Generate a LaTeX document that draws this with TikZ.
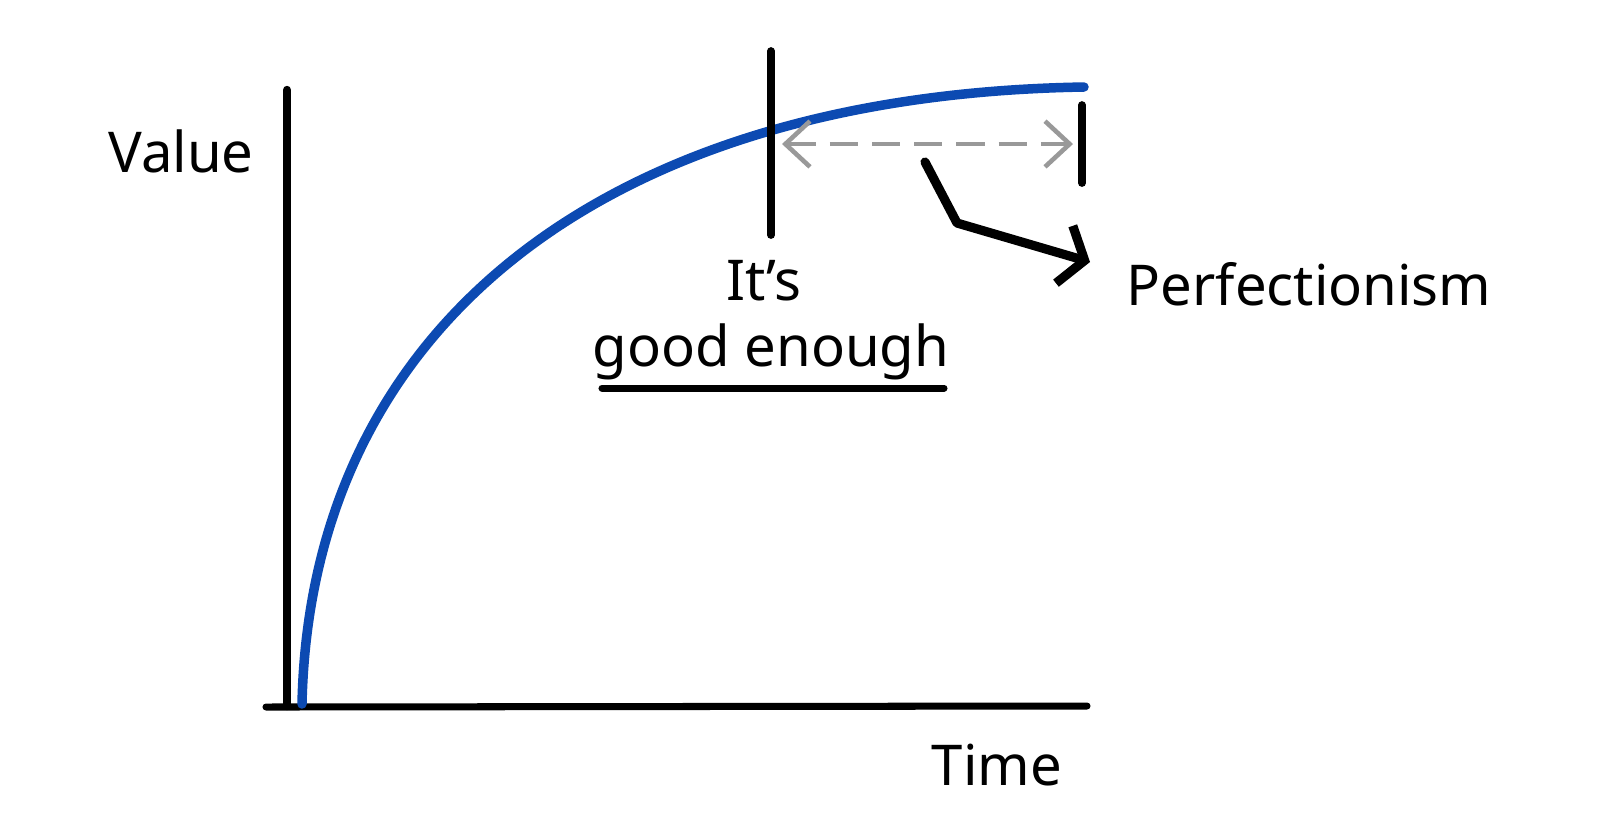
\documentclass[tikz,border=0pt]{standalone}
\usepackage{fontspec}
\setmainfont{Noto Sans}
\usepackage{tikz}
\usetikzlibrary{arrows.meta}
\usetikzlibrary{positioning}
\definecolor{curveblue}{RGB}{12,74,178}
\tikzset{axis/.style={line width=2pt, line cap=round}}
\tikzset{label/.style={font=\fontsize{16}{19}\selectfont, inner sep=0pt}}

\begin{document}
\begin{tikzpicture}[x=0.01cm, y=-0.01cm]
\tikzset{marker/.style={line width=2.2pt, line cap=round}}
\useasboundingbox (0,0) rectangle (1600,835);

% axes
\coordinate (O) at (287,706);
\coordinate (ytop) at (287,90);
\coordinate (xleft) at (266,707);
\coordinate (xend) at (1087,706);
\draw[axis, line width=2.4pt] (O) -- (ytop);
\draw[axis] (xleft) -- (xend);

\node[label] (value) at (181,151) {Value};
\node[label] (time) at (997,765) {Time};

% value over time
\coordinate (c0) at (302,704);
\coordinate (c1) at (1084,87);
\draw[line width=2.7pt, curveblue, line cap=round] (c0) .. controls (310,330) and (600,95) .. (c1);

\foreach \n/\x/\a/\b in {good/771/51/235, perf/1082/105/183} {
	\coordinate (\n-top) at (\x,\a);
	\coordinate (\n-bot) at (\x,\b);
	\draw[marker] (\n-top) -- (\n-bot);
}

% the gap
\coordinate (gapl) at (782,144);
\coordinate (gapr) at (1073,144);
\draw[gray!80, line width=1.3pt, dash pattern=on 8pt off 4pt,
	{Straight Barb[length=7pt,width=13pt]}-{Straight Barb[length=7pt,width=13pt]}] (gapl) -- (gapr);

\node[label] (its) at (764,281) {It’s};
\node[label] (good) at (771,352) {good enough};
\coordinate (ul) at (602,388);
\coordinate (ur) at (944,388);
\draw[axis] (ul) -- (ur);

\node[label, anchor=west] (perfection) at (1126,284) {Perfectionism};
\coordinate (p0) at (925,162);
\coordinate (p1) at (957,223);
\coordinate (p2) at (1090,262);
\draw[line width=2.6pt, line cap=round, line join=round,
	-{Straight Barb[length=6pt,width=17pt]}] (p0) -- (p1) -- (p2);
\end{tikzpicture}
\end{document}
